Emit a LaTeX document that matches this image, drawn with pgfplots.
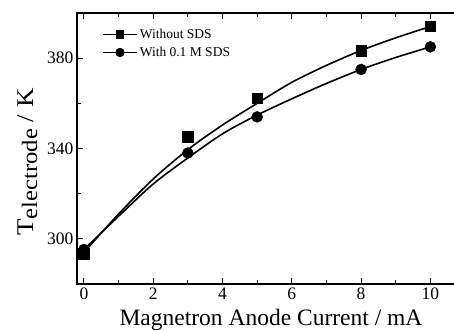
\documentclass[border=0pt]{standalone}
\usepackage{fontspec}
\setmainfont{Liberation Serif}
\usepackage{pgfplots}
\pgfplotsset{compat=1.18}
\usetikzlibrary{calc}
\begin{document}
\begin{tikzpicture}
\begin{axis}[
  scale only axis, width=388pt, height=271pt,
  xmin=-0.2, xmax=11, ymin=280, ymax=400,
  xtick={0,2,...,10}, minor xtick={1,3,...,11},
  ytick={300,340,380}, minor ytick={280,320,360,400},
  /pgf/number format/assume math mode=true,
  tick label style={font=\fontsize{17.5}{18}\selectfont},
  xlabel={Magnetron Anode Current / mA},
  xlabel style={font=\fontsize{23.5}{24}\selectfont, yshift=-3pt},
  ylabel={\scalebox{1.12}[1]{T\raisebox{-0.3ex}{\fontsize{22}{22}\selectfont electrode} / K}},
  ylabel style={font=\fontsize{24}{24}\selectfont, at={(ticklabel cs:0.45)}, yshift=3pt},
  axis line style={line width=1.3pt},
  major tick length=6pt, minor tick length=4pt,
  every tick/.style={line width=1pt, black},
  legend image code/.code={\draw[mark repeat=2,mark phase=2,#1] plot coordinates {(0pt,0pt) (17pt,0pt) (34pt,0pt)};},
  legend style={draw=none, fill=none, at={(0,1)}, anchor=north west, xshift=23pt, yshift=-12pt,
    row sep=3pt, font=\fontsize{13.5}{15}\selectfont, inner xsep=2pt},
  legend cell align=left,
]
% fitted curves
\addplot[line width=1.6pt, smooth, forget plot] coordinates {(0,294) (1,311) (2,326.5) (3,339.5) (4,350.4) (5,360) (6,369.3) (7,376.8) (8,383.4) (9,389) (10,394)};
\addplot[line width=1.6pt, smooth, forget plot] coordinates {(0,295.3) (1,310) (2,324.3) (3,335.8) (4,346.5) (5,354.8) (6,362) (7,368.8) (8,375) (9,380.3) (10,385)};
% data markers
\addplot[only marks, mark=square*, mark size=5.3pt, forget plot] coordinates {(0,293.4) (3,345.3) (5,362.2) (8,383.4) (10,394.1)};
\addplot[only marks, mark=*, mark size=5.5pt, forget plot] coordinates {(0,295.3) (3,338) (5,354) (8,375) (10,385)};
\addlegendimage{line width=1.6pt, mark=square*, mark size=3.5pt}
\addlegendentry{Without SDS}
\addlegendimage{line width=1.6pt, mark=*, mark size=3.8pt}
\addlegendentry{With 0.1 M SDS}
\end{axis}
\pgfresetboundingbox
\path ($(current axis.south west)+(-77pt,-46pt)$) rectangle ($(current axis.south west)+(377pt,284pt)$);
\end{tikzpicture}
\end{document}
